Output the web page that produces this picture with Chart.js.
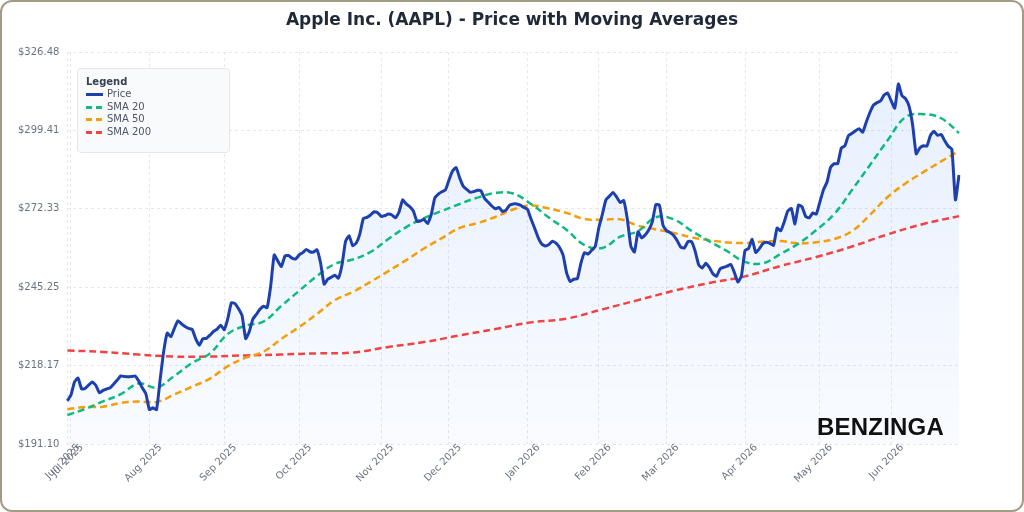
<!DOCTYPE html>
<html>
<head>
<meta charset="utf-8">
<title>AAPL Price with Moving Averages</title>
<script src="https://cdn.jsdelivr.net/npm/chart.js@4.4.1/dist/chart.umd.min.js"></script>
<style>
html, body { margin: 0; padding: 0; background: #fff; }
#card {
    position: relative;
    width: 1024px; height: 512px;
    box-sizing: border-box;
    border: 2px solid #a39c85;
    border-radius: 12px;
    overflow: hidden;
    background: #fff;
}
#chart { position: absolute; left: 0; top: 0; }
#title {
    position: absolute; left: 0; right: 0; top: 7px;
    text-align: center;
    font-family: 'DejaVu Sans', sans-serif; font-weight: bold;
    font-size: 17px; line-height: 20px; color: #1f2937;
}
#legend {
    position: absolute; left: 75px; top: 66px;
    width: 153px; height: 85px; box-sizing: border-box;
    background: rgba(249, 250, 251, 0.95);
    border: 1px solid #e5e7eb; border-radius: 4px;
    padding: 7px 0 0 8px;
    font-family: 'DejaVu Sans', sans-serif; font-size: 10px; color: #4b5563;
}
#legend .title { font-weight: bold; color: #374151; line-height: 12px; }
#legend .item { line-height: 12.7px; height: 12.7px; display: flex; align-items: center; }
#legend .swatch { width: 17px; height: 3px; margin-right: 4px; }
#brand {
    position: absolute; left: 815px; top: 413px;
    font-family: 'Liberation Sans', Arial, sans-serif; font-weight: bold;
    font-size: 24px; line-height: 24px; color: #111; letter-spacing: 0.2px;
}
</style>
</head>
<body>
<div id="card">
    <canvas id="chart" width="1020" height="508"></canvas>
    <div id="title">Apple Inc. (AAPL) - Price with Moving Averages</div>
    <div id="legend">
        <div class="title">Legend</div>
        <div class="item"><span class="swatch" style="background:#1e40af"></span>Price</div>
        <div class="item"><span class="swatch" style="background:repeating-linear-gradient(to right,#10b981 0 6px,transparent 6px 10px)"></span>SMA 20</div>
        <div class="item"><span class="swatch" style="background:repeating-linear-gradient(to right,#f59e0b 0 6px,transparent 6px 10px)"></span>SMA 50</div>
        <div class="item"><span class="swatch" style="background:repeating-linear-gradient(to right,#ef4444 0 6px,transparent 6px 10px)"></span>SMA 200</div>
    </div>
    <div id="brand">BENZINGA</div>
</div>
<script>
// trading calendar
var startDate = '2025-06-30';
var marketHolidays = ['2025-07-04', '2025-09-01', '2025-11-27', '2025-12-25', '2026-01-01',
    '2026-01-19', '2026-02-16', '2026-04-03', '2026-05-25', '2026-06-19'];
var monthNames = ['Jan', 'Feb', 'Mar', 'Apr', 'May', 'Jun', 'Jul', 'Aug', 'Sep', 'Oct', 'Nov', 'Dec'];

// daily close
var priceValues = [
    206.0, 208.0, 212.5, 213.9, 210.1, 210.3, 211.5, 212.5, 211.3, 208.8,
    209.6, 210.1, 210.5, 211.8, 213.2, 214.6, 214.4, 214.3, 214.4, 214.6,
    212.9, 210.5, 208.5, 203.0, 203.6, 203.0, 213.2, 223.0, 229.4, 228.1,
    231.0, 233.7, 232.6, 231.7, 231.0, 230.7, 227.4, 225.2, 227.5, 227.6,
    228.7, 230.0, 230.8, 232.1, 230.6, 234.5, 239.9, 239.6, 237.8, 235.4,
    227.5, 229.9, 234.2, 235.9, 237.6, 238.7, 238.2, 245.6, 256.4, 254.3,
    252.4, 256.0, 256.2, 255.3, 255.0, 256.4, 257.2, 258.3, 257.5, 257.4,
    258.2, 253.6, 246.3, 248.0, 248.7, 249.4, 248.4, 252.9, 261.1, 263.0,
    259.6, 260.5, 263.6, 269.0, 269.4, 270.2, 271.3, 271.0, 269.7, 270.0,
    270.5, 270.2, 269.2, 271.2, 275.4, 274.0, 273.1, 271.6, 268.1, 268.1,
    268.7, 267.2, 270.2, 276.0, 277.4, 278.2, 278.8, 282.3, 285.4, 286.6,
    283.0, 280.1, 279.0, 278.0, 278.3, 278.7, 278.5, 275.9, 274.6, 273.3,
    272.3, 272.8, 271.4, 271.9, 273.6, 274.0, 274.0, 273.6, 272.8, 272.2,
    268.8, 265.7, 262.4, 260.2, 259.5, 260.0, 261.1, 260.5, 259.0, 256.3,
    250.1, 247.2, 248.0, 248.2, 253.6, 257.2, 256.7, 258.0, 259.3, 265.7,
    270.4, 275.4, 276.7, 278.0, 276.4, 274.5, 275.2, 268.8, 259.4, 257.4,
    264.4, 262.3, 263.3, 265.0, 267.8, 273.8, 273.6, 266.7, 264.8, 264.1,
    263.1, 261.3, 259.1, 258.8, 261.0, 261.0, 257.8, 253.0, 251.9, 253.5,
    252.1, 249.9, 249.0, 251.6, 252.1, 252.5, 253.1, 250.4, 247.0, 249.2,
    257.9, 258.6, 261.8, 257.3, 258.5, 260.3, 260.8, 260.4, 259.7, 265.7,
    264.7, 267.8, 271.6, 272.4, 267.1, 273.6, 273.0, 269.7, 269.2, 270.9,
    270.5, 274.7, 278.9, 281.6, 286.7, 287.9, 287.9, 293.3, 294.1, 297.6,
    298.4, 299.3, 300.0, 298.8, 302.3, 305.5, 308.1, 309.0, 309.6, 311.6,
    312.3, 309.6, 307.1, 315.4, 311.4, 310.4, 307.8, 301.3, 291.3, 293.3,
    294.1, 294.0, 297.7, 299.1, 297.7, 298.0, 295.8, 293.9, 292.9, 275.4,
    284.0
];

// moving averages, read every 5th (SMA 200: every 10th) trading day
var sma20Step = 5;
var sma20Values = [
    201.1, 203.2, 205.8, 208.3, 212.0, 210.6, 214.6, 219.1, 222.4, 229.1,
    232.0, 233.4, 238.8, 244.0, 249.1, 253.3, 254.8, 257.4, 261.9, 266.0,
    269.1, 271.6, 274.0, 276.2, 277.8, 277.6, 274.0, 269.3, 265.0, 259.8,
    258.8, 262.7, 264.6, 269.4, 268.7, 264.7, 261.1, 257.7, 254.0, 253.5,
    256.8, 260.3, 265.0, 270.5, 278.8, 287.4, 296.0, 304.0, 305.0, 303.6,
    298.5
];
var sma50Step = 5;
var sma50Values = [
    203.1, 203.9, 204.0, 205.3, 205.8, 205.6, 208.2, 210.9, 213.7, 218.0,
    220.9, 223.0, 227.4, 231.5, 236.0, 240.8, 243.6, 247.1, 250.8, 254.6,
    258.6, 262.2, 265.7, 267.4, 269.5, 272.1, 273.5, 272.4, 270.9, 268.8,
    268.6, 268.7, 266.5, 265.2, 264.0, 262.5, 261.5, 260.7, 260.5, 261.0,
    261.2, 260.4, 260.8, 261.9, 264.6, 270.2, 276.4, 281.1, 285.0, 288.7,
    292.3
];
var sma200Step = 10;
var sma200Values = [
    223.4, 222.9, 222.0, 221.3, 221.3, 221.7, 222.0, 222.4, 222.7, 224.6,
    226.3, 228.6, 230.8, 233.1, 234.4, 237.6, 240.8, 244.0, 246.7, 249.0,
    252.6, 255.7, 259.3, 263.5, 267.1, 269.8
];

var yTicks = [191.10, 218.17, 245.25, 272.33, 299.41, 326.48];

function tradingDays(start, count) {
    var days = [];
    var d = new Date(start + 'T00:00:00Z');
    while (days.length < count) {
        var iso = d.toISOString().slice(0, 10);
        var wd = d.getUTCDay();
        if (wd !== 0 && wd !== 6 && marketHolidays.indexOf(iso) < 0) days.push(iso);
        d.setUTCDate(d.getUTCDate() + 1);
    }
    return days;
}

function spread(values, step, length) {
    var out = new Array(length).fill(null);
    values.forEach(function (v, k) { out[k * step] = v; });
    return out;
}

var labels = tradingDays(startDate, priceValues.length);

function isMonthTick(i) {
    return i === 0 || labels[i].slice(0, 7) !== labels[i - 1].slice(0, 7);
}

function monthLabel(iso) {
    return monthNames[parseInt(iso.slice(5, 7), 10) - 1] + ' ' + iso.slice(0, 4);
}

Chart.defaults.font.family = "'DejaVu Sans', sans-serif";

// month labels under the x axis, turned 45 degrees
var monthLabelsPlugin = {
    id: 'monthLabels',
    afterDraw: function (chart) {
        var xs = chart.scales.x;
        var c = chart.ctx;
        c.save();
        c.fillStyle = '#6b7280';
        c.font = "10px 'DejaVu Sans', sans-serif";
        c.textAlign = 'right';
        c.textBaseline = 'middle';
        xs.ticks.forEach(function (t) {
            var px = xs.getPixelForValue(t.value);
            c.save();
            c.translate(px + 11, chart.chartArea.bottom + 2);
            c.rotate(-Math.PI / 4);
            c.fillText(monthLabel(labels[t.value]), 0, 0);
            c.restore();
        });
        c.restore();
    }
};

var ctx = document.getElementById('chart');

var priceFill = function (context) {
    var chart = context.chart;
    var area = chart.chartArea;
    if (!area) return 'rgba(59,130,246,0.06)';
    var g = chart.ctx.createLinearGradient(0, area.top, 0, area.bottom);
    g.addColorStop(0, 'rgba(59,130,246,0.13)');
    g.addColorStop(1, 'rgba(59,130,246,0.03)');
    return g;
};

var myChart = new Chart(ctx, {
    type: 'line',
    data: {
        labels: labels,
        datasets: [
            {
                label: 'Price',
                data: priceValues,
                borderColor: '#1e40af',
                borderWidth: 3,
                backgroundColor: priceFill,
                fill: 'start',
                tension: 0.15,
                pointRadius: 0
            },
            {
                label: 'SMA 20',
                data: spread(sma20Values, sma20Step, priceValues.length),
                borderColor: '#10b981',
                borderWidth: 2.5,
                borderDash: [7, 4],
                spanGaps: true,
                fill: false,
                tension: 0.4,
                pointRadius: 0
            },
            {
                label: 'SMA 50',
                data: spread(sma50Values, sma50Step, priceValues.length),
                borderColor: '#f59e0b',
                borderWidth: 2.5,
                borderDash: [7, 4],
                spanGaps: true,
                fill: false,
                tension: 0.4,
                pointRadius: 0
            },
            {
                label: 'SMA 200',
                data: spread(sma200Values, sma200Step, priceValues.length),
                borderColor: '#ef4444',
                borderWidth: 2.5,
                borderDash: [7, 4],
                spanGaps: true,
                fill: false,
                tension: 0.4,
                pointRadius: 0
            }
        ]
    },
    plugins: [monthLabelsPlugin],
    options: {
        responsive: false,
        animation: false,
        devicePixelRatio: 1,
        layout: { padding: { left: 8, right: 63, top: 50, bottom: 66 } },
        plugins: {
            legend: { display: false },
            tooltip: { enabled: false },
            filler: { drawTime: 'beforeDatasetsDraw' },
            title: { display: false }
        },
        scales: {
            x: {
                type: 'category',
                afterBuildTicks: function (axis) {
                    axis.ticks = axis.ticks.filter(function (t) { return isMonthTick(t.value); });
                },
                ticks: { display: false, autoSkip: false },
                grid: { color: '#e5e7eb', drawTicks: false },
                border: { display: false, dash: [3, 3] }
            },
            y: {
                min: yTicks[0],
                max: yTicks[yTicks.length - 1],
                afterBuildTicks: function (axis) {
                    axis.ticks = yTicks.map(function (v) { return { value: v }; });
                },
                ticks: {
                    padding: 8,
                    color: '#6b7280',
                    font: { size: 10 },
                    callback: function (v) { return '$' + Number(v).toFixed(2); }
                },
                grid: { color: '#e5e7eb', drawTicks: false },
                border: { display: false, dash: [3, 3] }
            }
        }
    }
});
</script>
</body>
</html>
